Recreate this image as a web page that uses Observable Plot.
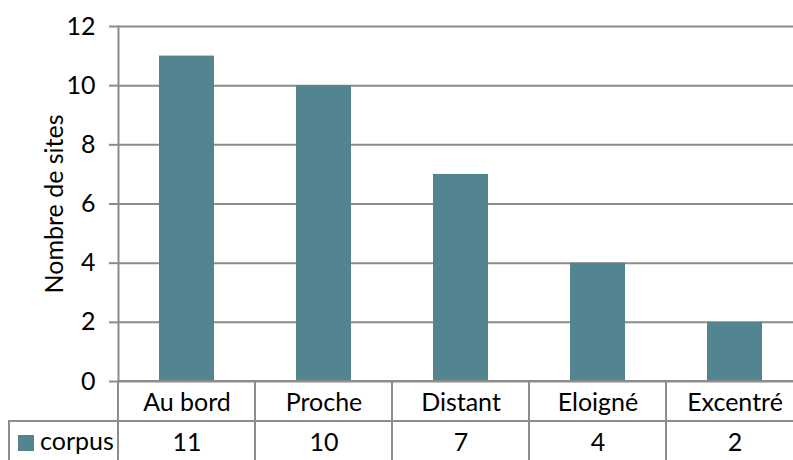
<!DOCTYPE html>
<html>
<head>
<meta charset="utf-8">
<script src="https://cdn.jsdelivr.net/npm/d3@7"></script>
<script src="https://cdn.jsdelivr.net/npm/@observablehq/plot@0.6"></script>
<style>
  html, body { margin: 0; padding: 0; background: #fff; overflow: hidden; }
  #wrap { position: relative; width: 793px; height: 460px; overflow: hidden; font-family: Lato, sans-serif; }
  #wrap svg { position: absolute; left: 0; overflow: visible; max-width: none !important; }
  #legend { position: absolute; left: 8px; top: 420px; width: 110px; height: 42px;
    border-left: 2px solid #8c8c8c; border-top: 2px solid #8c8c8c; box-sizing: border-box; }
  #legend .sw { position: absolute; left: 8px; top: 13px; width: 16px; height: 16px; background: #52858f; }
  #legend .lb { position: absolute; left: 30px; top: 4px; font-size: 25px; line-height: 28px; color: #000; }
</style>
</head>
<body>
<div id="wrap"></div>
<script>
const categories = ["Au bord", "Proche", "Distant", "Eloigné", "Excentré"];
const values = [11, 10, 7, 4, 2];
const seriesName = "corpus";
const yTicks = [0, 2, 4, 6, 8, 10, 12];
const yLabel = "Nombre de sites";

const data = categories.map((c, i) => ({category: c, value: values[i]}));
const barColor = "#52858f";
const gridColor = "#8c8c8c";
const font = "Lato, sans-serif";

const chart = Plot.plot({
  width: 810,
  height: 383,
  marginTop: 26,
  marginBottom: 2,
  marginLeft: 118,
  marginRight: 7,
  style: {fontFamily: font, fontSize: "25px", color: "#000", background: "transparent", maxWidth: "none"},
  x: {type: "band", domain: categories, paddingInner: 0.6, paddingOuter: 0.3, axis: null},
  y: {domain: [0, 12], ticks: yTicks, label: null},
  marks: [
    Plot.ruleY(yTicks, {stroke: gridColor, strokeWidth: 2}),
    Plot.axisY({ticks: yTicks, tickSize: 9, tickPadding: 14, stroke: gridColor, strokeWidth: 2, fontSize: 25, label: null, tickFormat: d => String(d)}),
    Plot.barY(data, {x: "category", y: "value", fill: barColor}),
    Plot.frame({anchor: "left", stroke: gridColor, strokeWidth: 2}),
    Plot.text([yLabel], {frameAnchor: "left", textAnchor: "middle", dx: -64, rotate: -90, text: d => d, fontSize: 25, fill: "#000"})
  ]
});
chart.style.top = "0px";

const rows = ["cat", "val"];
const cells = [];
categories.forEach((c, i) => {
  cells.push({category: c, row: "cat", label: c});
  cells.push({category: c, row: "val", label: String(values[i])});
});

const table = Plot.plot({
  width: 810,
  height: 82,
  marginTop: 1,
  marginBottom: 1,
  marginLeft: 118,
  marginRight: 7,
  style: {fontFamily: font, fontSize: "25px", color: "#000", background: "transparent", maxWidth: "none"},
  x: {type: "band", domain: categories, padding: 0, axis: null},
  y: {type: "band", domain: rows, padding: 0, axis: null},
  marks: [
    Plot.cell(cells, {x: "category", y: "row", fill: "none", stroke: gridColor, strokeWidth: 2}),
    Plot.text(cells, {x: "category", y: "row", text: "label", fontSize: 25, fill: "#000", dy: 1})
  ]
});
table.style.top = "380px";

const wrap = document.getElementById("wrap");
wrap.appendChild(chart);
wrap.appendChild(table);
const legend = document.createElement("div");
legend.id = "legend";
legend.innerHTML = `<div class="sw"></div><div class="lb">${seriesName}</div>`;
wrap.appendChild(legend);
</script>
</body>
</html>
